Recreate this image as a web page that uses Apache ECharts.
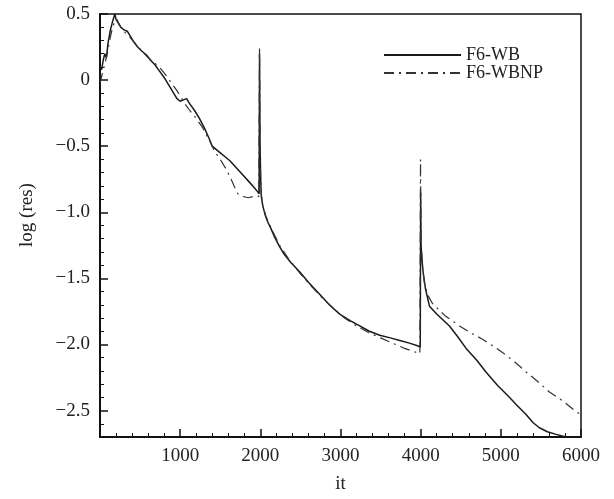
<!DOCTYPE html>
<html>
<head>
<meta charset="utf-8">
<script src="https://cdn.jsdelivr.net/npm/echarts@6/dist/echarts.min.js"></script>
<style>html,body{margin:0;padding:0;background:#fff;}#c{width:614px;height:499px;}</style>
</head>
<body>
<div id="c"></div>
<script>
// ---- data ----
var wbX = [0, 20, 40, 60, 80, 100, 130, 160, 185, 200, 230, 260, 300, 340, 380, 420, 470, 520, 580, 630, 680, 740, 800, 860, 920, 960, 1000, 1040, 1080, 1120, 1180, 1240, 1300, 1360, 1400, 1440, 1500, 1560, 1620, 1680, 1740, 1800, 1860, 1920, 1960, 1985, 1990, 1996, 2000, 2005, 2012, 2030, 2060, 2090, 2130, 2180, 2240, 2300, 2380, 2490, 2600, 2740, 2860, 2990, 3120, 3240, 3360, 3490, 3620, 3740, 3860, 3960, 3995, 4000, 4005, 4015, 4030, 4060, 4110, 4200, 4359, 4460, 4567, 4700, 4817, 4960, 5107, 5200, 5315, 5400, 5481, 5580, 5690, 5814, 5900, 6000];
var wbY = [0.10, 0.08, 0.15, 0.20, 0.17, 0.28, 0.38, 0.45, 0.50, 0.46, 0.43, 0.40, 0.38, 0.37, 0.33, 0.29, 0.25, 0.22, 0.19, 0.15, 0.12, 0.07, 0.02, -0.04, -0.10, -0.14, -0.16, -0.15, -0.14, -0.18, -0.23, -0.29, -0.36, -0.44, -0.50, -0.52, -0.55, -0.58, -0.61, -0.65, -0.69, -0.73, -0.77, -0.81, -0.84, -0.86, 0.20, -0.45, -0.60, -0.75, -0.88, -0.95, -1.02, -1.07, -1.12, -1.19, -1.26, -1.32, -1.38, -1.45, -1.53, -1.62, -1.70, -1.77, -1.82, -1.86, -1.90, -1.93, -1.95, -1.97, -1.99, -2.01, -2.02, -0.85, -1.25, -1.35, -1.45, -1.58, -1.71, -1.77, -1.86, -1.94, -2.03, -2.12, -2.21, -2.31, -2.40, -2.46, -2.53, -2.59, -2.63, -2.66, -2.68, -2.70, -2.70, -2.70];

var npX = [0, 30, 60, 90, 120, 150, 180, 210, 240, 280, 330, 380, 450, 520, 600, 680, 750, 820, 900, 960, 1000, 1060, 1120, 1200, 1280, 1360, 1430, 1500, 1560, 1620, 1680, 1720, 1780, 1850, 1920, 1980, 1990, 1996, 2002, 2010, 2030, 2070, 2150, 2250, 2350, 2480, 2620, 2760, 2900, 3050, 3200, 3350, 3500, 3650, 3800, 3900, 3990, 3998, 4005, 4020, 4050, 4100, 4147, 4300, 4484, 4620, 4771, 4900, 5020, 5170, 5319, 5460, 5606, 5780, 5942, 6000];
var npY = [-0.02, 0.05, 0.12, 0.20, 0.30, 0.38, 0.44, 0.46, 0.42, 0.38, 0.35, 0.32, 0.27, 0.22, 0.17, 0.13, 0.09, 0.04, -0.03, -0.08, -0.12, -0.18, -0.23, -0.29, -0.36, -0.45, -0.54, -0.60, -0.66, -0.73, -0.81, -0.86, -0.88, -0.89, -0.88, -0.88, 0.25, -0.50, -0.70, -0.85, -0.95, -1.03, -1.14, -1.26, -1.35, -1.45, -1.55, -1.64, -1.72, -1.80, -1.86, -1.91, -1.95, -1.99, -2.03, -2.05, -2.07, -0.60, -1.20, -1.40, -1.55, -1.64, -1.69, -1.78, -1.86, -1.91, -1.96, -2.01, -2.06, -2.13, -2.21, -2.28, -2.36, -2.43, -2.51, -2.53];

var seriesNames = ['F6-WB', 'F6-WBNP'];
var xTickValues = [0, 1000, 2000, 3000, 4000, 5000, 6000];
var yMajorTicks = [-2.5, -2.0, -1.5, -1.0, -0.5, 0, 0.5];
var yMinorTicks = [-2.7, -2.6, -2.4, -2.3, -2.2, -2.1, -1.9, -1.8, -1.7, -1.6, -1.4, -1.3, -1.2, -1.1, -0.9, -0.8, -0.7, -0.6, -0.4, -0.3, -0.2, -0.1, 0.1, 0.2, 0.3, 0.4];
var xAxisTitle = 'it';
var yAxisTitle = 'log (res)';

function pairs(xs, ys) { return xs.map(function (x, i) { return [x, ys[i]]; }); }

var FONT = '"Liberation Serif", "DejaVu Serif", serif';
var chart = echarts.init(document.getElementById('c'), null, { renderer: 'canvas' });

chart.setOption({
  backgroundColor: '#fff',
  animation: false,
  grid: { left: 100, right: 33, top: 14, bottom: 56, show: true, borderColor: '#111', borderWidth: 1.5, backgroundColor: 'transparent' },
  legend: {
    orient: 'vertical', left: 383, top: 46, itemWidth: 77, itemHeight: 10, itemGap: 0, padding: 0,
    itemStyle: { opacity: 0, borderWidth: 0 },
    textStyle: { fontFamily: FONT, fontSize: 18, color: '#222', lineHeight: 16 },
    data: seriesNames
  },
  xAxis: {
    type: 'value', min: 0, max: 6000, interval: 1000,
    name: xAxisTitle, nameLocation: 'middle', nameGap: 38,
    nameTextStyle: { fontFamily: FONT, fontSize: 19, color: '#222' },
    axisLine: { show: true, onZero: false, lineStyle: { color: '#111', width: 2 } },
    axisTick: { show: true, inside: true, length: 8, lineStyle: { color: '#111', width: 1.5 } },
    minorTick: { show: true, splitNumber: 5, length: 4, lineStyle: { color: '#111', width: 1 } },
    axisLabel: { fontFamily: FONT, fontSize: 19, color: '#222', margin: 10,
      formatter: function (v) { return v === 0 ? '' : String(v); } },
    splitLine: { show: false }
  },
  yAxis: [{
    type: 'value', min: -2.7, max: 0.5,
    axisLine: { show: true, onZero: false, lineStyle: { color: '#111', width: 2 } },
    axisTick: { show: true, inside: true, length: 8, customValues: yMajorTicks, lineStyle: { color: '#111', width: 1.5 } },
    axisLabel: { fontFamily: FONT, fontSize: 19, color: '#222', margin: 10, customValues: yMajorTicks,
      formatter: function (v) { return v === 0 ? '0' : (v < 0 ? '\u2212' : '') + Math.abs(v).toFixed(1); } },
    splitLine: { show: false }
  }, {
    type: 'value', min: -2.7, max: 0.5, position: 'left',
    axisLine: { show: false },
    axisTick: { show: true, inside: true, length: 4, customValues: yMinorTicks, lineStyle: { color: '#111', width: 1 } },
    axisLabel: { show: false },
    splitLine: { show: false }
  }],
  graphic: [{
    type: 'text', x: 27, y: 215, rotation: Math.PI / 2,
    style: { text: yAxisTitle, font: '19px ' + FONT, fill: '#222', align: 'center', verticalAlign: 'middle' }
  }],
  series: [{
    name: seriesNames[0], type: 'line', yAxisIndex: 0, showSymbol: false, symbol: 'none',
    data: pairs(wbX, wbY),
    lineStyle: { color: '#1a1a1a', width: 1.5, type: 'solid' },
    itemStyle: { color: '#1a1a1a' }
  }, {
    name: seriesNames[1], type: 'line', yAxisIndex: 0, showSymbol: false, symbol: 'none',
    data: pairs(npX, npY),
    lineStyle: { color: '#333', width: 1.2, type: [10, 5, 2, 5] },
    itemStyle: { color: '#333' }
  }]
});
</script>
</body>
</html>
